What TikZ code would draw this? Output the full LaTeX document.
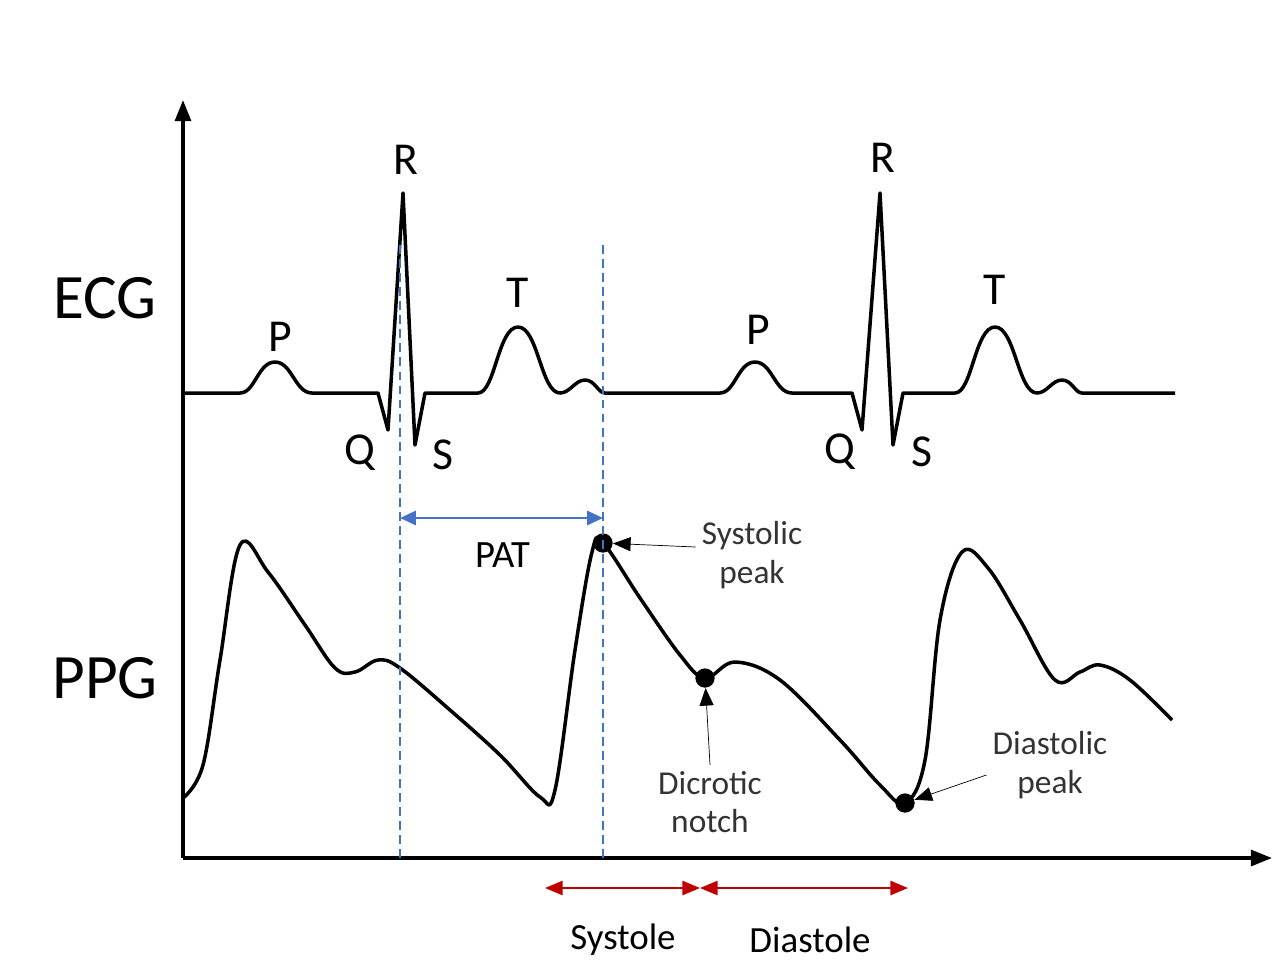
\documentclass[tikz,border=0pt]{standalone}
\usepackage{fontspec}
\setmainfont{Carlito}
\usetikzlibrary{arrows.meta}
\begin{document}
\begin{tikzpicture}[x=0.02cm, y=-0.02cm,
  wave/.style={line width=2pt, line join=round},
  lbl/.style={font=\fontsize{26}{28}\selectfont},
  note/.style={font=\fontsize{19}{22}\selectfont, align=center, text=black!80},
  guide/.style={dash pattern=on 5pt off 3pt, draw={rgb,255:red,68;green,114;blue,196}, line width=1.3pt},
  pt/.style={circle, fill=black, inner sep=0pt, minimum size=11pt}]
\useasboundingbox (0,0) rectangle (1280,965);
% Axes
\coordinate (O) at (183,858);
\coordinate (ytop) at (183,100);
\coordinate (xend) at (1272,858);
\draw[line width=2pt, -{Triangle[length=12pt,width=9pt]}] (O) -- (ytop);
\draw[line width=2pt, -{Triangle[length=12pt,width=9pt]}] (O) -- (xend);
\node[font=\fontsize{36}{40}\selectfont] (ecg) at (105,298) {ECG};
\node[font=\fontsize{36}{40}\selectfont] (ppg) at (105,678) {PPG};
% ECG trace
\draw[wave] (183,393) -- (240,393)
  .. controls (255,393) and (258,362) .. (275,362) .. controls (292,362) and (295,393) .. (312,393)
  -- (378,393) -- (388,430) -- (403,193) -- (415,445) -- (425,393) -- (478,393)
  .. controls (495,393) and (498,327) .. (518,327) .. controls (538,327) and (541,393) .. (560,393)
  .. controls (570,393) and (575,380) .. (585,380) .. controls (595,380) and (598,393) .. (605,393)
  -- (720,393)
  .. controls (735,393) and (738,362) .. (755,362) .. controls (772,362) and (775,393) .. (792,393)
  -- (852,393) -- (862,430) -- (880,193) -- (893,445) -- (903,393) -- (955,393)
  .. controls (972,393) and (975,327) .. (995,327) .. controls (1015,327) and (1018,393) .. (1037,393)
  .. controls (1047,393) and (1052,380) .. (1062,380) .. controls (1072,380) and (1075,393) .. (1082,393)
  -- (1175,393);
\node[lbl] (R1) at (406,160) {R};
\node[lbl] (R2) at (883,158) {R};
\node[lbl] (P1) at (280,337) {P};
\node[lbl] (P2) at (758,330) {P};
\node[lbl] (T1) at (518,293) {T};
\node[lbl] (T2) at (995,290) {T};
\node[lbl] (Q1) at (360,453) {Q};
\node[lbl] (Q2) at (840,452) {Q};
\node[lbl] (S1) at (443,455) {S};
\node[lbl] (S2) at (922,452) {S};
% PPG trace
\draw[wave] plot[smooth, tension=0.6] coordinates {(183,798) (203,765) (220,660) (240,545) (268,572)
  (305,625) (335,668) (355,672) (378,660) (400,668) (450,710) (500,755) (540,797) (555,790)
  (575,650) (592,552) (603,543) (640,598) (680,655) (705,678) (735,662) (780,680) (840,740)
  (880,785) (905,803) (925,760) (940,620) (962,552) (988,568) (1020,620) (1055,680) (1080,672)
  (1100,665) (1130,680) (1172,720)};
\node[pt] (sys) at (603,543) {};
\node[pt] (dic) at (705,678) {};
\node[pt] (dia) at (905,803) {};
% Guides and PAT
\coordinate (g1t) at (400,245); \coordinate (g1b) at (400,858);
\coordinate (g2t) at (603,245); \coordinate (g2b) at (603,858);
\draw[guide] (g1t) -- (g1b);
\draw[guide] (g2t) -- (g2b);
\coordinate (patL) at (400,518); \coordinate (patR) at (603,518);
\draw[draw={rgb,255:red,68;green,114;blue,196}, line width=1.5pt, {Triangle[length=9pt,width=8pt]}-{Triangle[length=9pt,width=8pt]}] (patL) -- (patR);
\node[font=\fontsize{22}{24}\selectfont] (pat) at (503,555) {PAT};
% Annotations
\node[note] (sysl) at (752,555) {Systolic\\peak};
\node[note] (dicl) at (710,802) {Dicrotic\\notch};
\node[note] (dial) at (1050,765) {Diastolic\\peak};
\draw[-{Triangle[length=10pt,width=8pt]}] (sysl.west) ++(0,-8) coordinate (sa) (sa) -- (sys);
\draw[-{Triangle[length=10pt,width=8pt]}] (dicl.north) -- (dic);
\draw[-{Triangle[length=10pt,width=8pt]}] (dial.west) ++(0,10) coordinate (da) (da) -- (dia);
% Systole / Diastole
\coordinate (c1) at (545,888); \coordinate (c2) at (700,888); \coordinate (c3) at (908,888);
\draw[red!75!black, line width=1.3pt, {Triangle[length=10pt,width=8pt]}-{Triangle[length=10pt,width=8pt]}] (c1) -- (c2);
\draw[red!75!black, line width=1.3pt, {Triangle[length=10pt,width=8pt]}-{Triangle[length=10pt,width=8pt]}] (c2) -- (c3);
\node[font=\fontsize{21}{24}\selectfont] (systole) at (623,940) {Systole};
\node[font=\fontsize{21}{24}\selectfont] (diastole) at (810,940) {Diastole};
\end{tikzpicture}
\end{document}
